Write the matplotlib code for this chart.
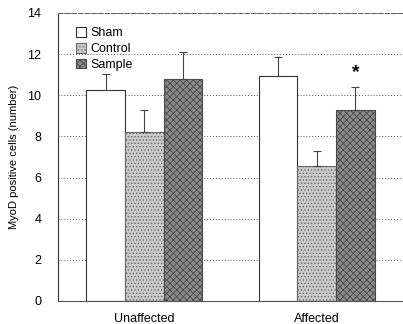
import numpy as np
import matplotlib
matplotlib.use('Agg')
import matplotlib.pyplot as plt

plt.rcParams['font.family'] = ['Liberation Sans', 'DejaVu Sans']
plt.rcParams['hatch.linewidth'] = 0.6

groups = ['Unaffected', 'Affected']
series = ['Sham', 'Control', 'Sample']
means = {
    'Sham': [10.25, 10.95],
    'Control': [8.2, 6.55],
    'Sample': [10.8, 9.3],
}
errors = {
    'Sham': [0.8, 0.9],
    'Control': [1.1, 0.75],
    'Sample': [1.3, 1.1],
}
y_ticks = [0, 2, 4, 6, 8, 10, 12, 14]

styles = {
    'Sham': dict(facecolor='white', hatch=None, edgecolor='#333333'),
    'Control': dict(facecolor='#cacaca', hatch='.....', edgecolor='#6a6a6a'),
    'Sample': dict(facecolor='#8a8a8a', hatch='xxxxx', edgecolor='#4a4a4a'),
}

fig = plt.figure(figsize=(4.03, 3.24), dpi=100)
ax = fig.add_axes([0.144, 0.071, 0.856, 0.889])

x = np.arange(len(groups))
width = 0.224
for i, s in enumerate(series):
    pos = x + (i - 1) * width
    st = styles[s]
    ax.bar(pos, means[s], width, color=st['facecolor'], hatch=st['hatch'],
           edgecolor=st['edgecolor'], linewidth=0.8, label=s, zorder=2)
    ax.errorbar(pos, means[s], yerr=[np.zeros(2), errors[s]], fmt='none',
                ecolor='#444444', elinewidth=0.8, capsize=3, capthick=0.8, zorder=3)

# significance marker
ax.text(x[1] + width, means['Sample'][1] + errors['Sample'][1] + 0.3, '*',
        ha='center', va='bottom', fontsize=14, fontweight='bold')

ax.set_xlim(-0.5, 1.5)
ax.set_ylim(0, 14)
ax.set_yticks(y_ticks)
ax.set_xticks(x)
ax.set_xticklabels(groups, fontsize=9)
ax.tick_params(axis='y', labelsize=9, length=0, pad=12)
ax.tick_params(axis='x', length=0, pad=9)
ax.yaxis.grid(True, linestyle=(0, (1, 2)), color='#555555', linewidth=0.7, zorder=0)
ax.set_axisbelow(True)
ax.spines['right'].set_visible(False)
ax.spines['top'].set_linestyle((0, (4, 2)))
ax.spines['top'].set_color('#666666')
ax.spines['left'].set_color('#333333')
ax.spines['bottom'].set_color('#555555')
ax.set_ylabel('MyoD positive cells (number)', fontsize=8, labelpad=6)

ax.legend(loc='upper left', frameon=False, fontsize=9, handlelength=0.8,
          handleheight=0.8, handletextpad=0.3, labelspacing=0.3,
          bbox_to_anchor=(0.02, 0.99))

fig.savefig('out.png', dpi=100)
